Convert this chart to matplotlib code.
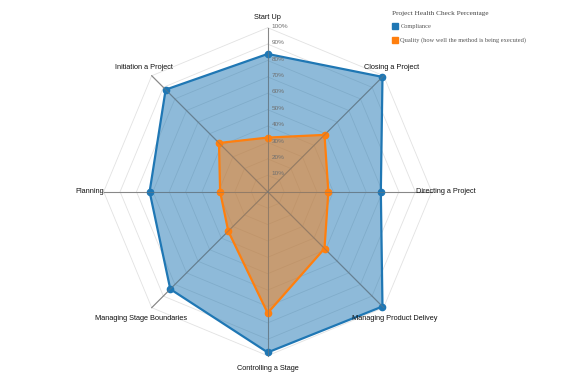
import numpy as np
import matplotlib
matplotlib.use("Agg")
import matplotlib.pyplot as plt
from matplotlib.lines import Line2D

# axes, clockwise from the top
categories = ["Start Up", "Closing a Project", "Directing a Project",
              "Managing Product Delivey", "Controlling a Stage",
              "Managing Stage Boundaries", "Planning", "Initiation a Project"]
compliance = [84, 99, 69, 99, 98, 84, 72, 88]
quality = [33, 49, 37, 49, 74, 34, 29, 42]
tick_labels = ["10%", "20%", "30%", "40%", "50%", "60%", "70%", "80%", "90%", "100%"]

BLUE = "#1f77b4"
ORANGE = "#ff7f0e"

fig = plt.figure(figsize=(5.62, 3.87), dpi=100)
ax = fig.add_axes([0.1845, 0.0809, 0.5836, 0.8475], projection="polar")
ax.set_theta_zero_location("N")
ax.set_theta_direction(-1)
ax.set_ylim(0, 1)
ax.axis("off")

n = len(categories)
angles = np.arange(n) * 2 * np.pi / n
closed = np.append(angles, angles[0])

# octagon grid
for k in range(1, 11):
    lvl = k / 10
    ax.plot(closed, [lvl] * (n + 1), color="#e2e2e2", lw=0.6, zorder=1, clip_on=False)
for a in angles:
    ax.plot([a, a], [0, 1], color="#999999", lw=0.8, zorder=1, clip_on=False)

def draw(vals, color):
    r = np.array(vals + vals[:1]) / 100
    ax.fill(closed, r, color=color, alpha=0.5, lw=0, zorder=2)
    ax.plot(closed, r, color=color, lw=1.6, zorder=3, clip_on=False)
    ax.plot(angles, r[:-1], "o", color=color, ms=4.5, zorder=4, clip_on=False)

draw(compliance, BLUE)
draw(quality, ORANGE)

# spokes visible over the fill
for a in angles:
    ax.plot([a, a], [0, 1], color="#777777", lw=0.7, alpha=0.5, zorder=5, clip_on=False)

# percentage ticks along the first axis
for k, t in enumerate(tick_labels):
    ax.annotate(t, (0, (k + 1) / 10), xytext=(3, 1), textcoords="offset points",
                ha="left", va="center", fontsize=4.6, color="#6f6f6f",
                family="Liberation Sans", zorder=6)

# category labels
label_pos = [(1.065, "center"), (1.07, "center"), (0.905, "left"),
             (1.095, "center"), (1.08, "center"), (1.09, "center"),
             (1.0, "right"), (1.07, "center")]
for a, name, (r, ha) in zip(angles, categories, label_pos):
    ax.text(a, r, name, ha=ha, va="center", fontsize=5.3,
            family="Liberation Sans", color="#111111", zorder=6)

handles = [Line2D([], [], marker="s", ls="", color=BLUE, ms=5),
           Line2D([], [], marker="s", ls="", color=ORANGE, ms=5)]
leg = fig.legend(handles, ["Compliance", "Quality (how well the method is being executed)"],
                 title="Project Health Check Percentage", loc="upper left",
                 bbox_to_anchor=(0.697, 0.972), frameon=False, alignment="left",
                 prop={"family": "Liberation Serif", "size": 4.6},
                 title_fontproperties={"family": "Liberation Serif", "size": 5.2},
                 handletextpad=0.35, handlelength=1.0, labelspacing=1.25,
                 borderaxespad=0, borderpad=0)
leg.get_title().set_color("#444444")
for t in leg.get_texts():
    t.set_color("#555555")

fig.savefig("out.png", dpi=100)
